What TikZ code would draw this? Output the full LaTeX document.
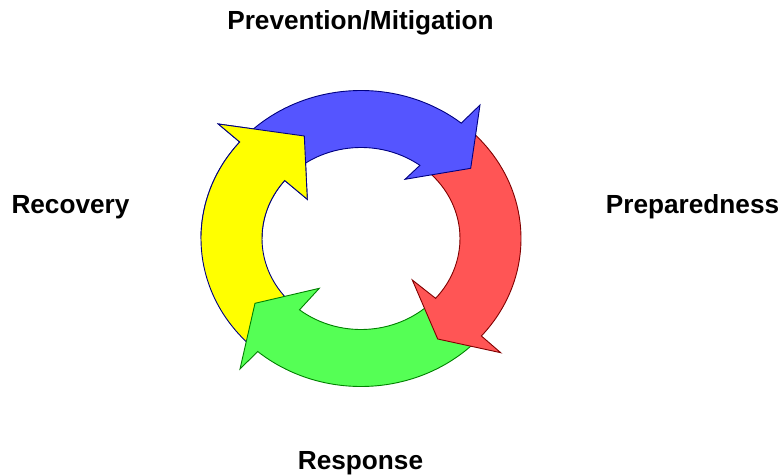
\documentclass[tikz,border=0pt]{standalone}
\usepackage{fontspec}
\setmainfont{Liberation Sans}
\definecolor{bfill}{RGB}{85,85,255}
\definecolor{rfill}{RGB}{255,85,85}
\definecolor{gfill}{RGB}{85,255,85}
\definecolor{yfill}{RGB}{255,255,0}
\definecolor{bline}{RGB}{0,0,128}
\definecolor{rline}{RGB}{128,0,0}
\definecolor{gline}{RGB}{0,128,0}
\tikzset{
  ringarrow/.style={line width=0.9pt, line join=miter},
  lbl/.style={font=\bfseries\fontsize{26.2}{30}\selectfont, anchor=base, inner sep=0pt}
}
\def\yellowarrowpath{(227:160pt and 148pt) arc[start angle=227, end angle=139.3, x radius=160pt, y radius=148pt] -- (-142.7,114.5) -- (-56.7,102.5) -- (-53.7,39.2) -- (140.4:99pt and 91pt) arc[start angle=140.4, end angle=224, x radius=99pt, y radius=91pt] -- cycle}
\begin{document}
\begin{tikzpicture}[x=1pt,y=1pt]
\useasboundingbox (0,0) rectangle (782,-476);
\begin{scope}[shift={(361,-238.5)}]
  % yellow (Recovery), full
  \path[ringarrow, fill=yfill, draw=bline] \yellowarrowpath;
  % green (Response)
  \path[ringarrow, fill=gfill, draw=gline]
    (316:160pt and 148pt) arc[start angle=316, end angle=229.8, x radius=160pt, y radius=148pt]
    -- (-121,-130.5) -- (-106,-64.8) -- (-41.7,-49.8)
    -- (231.6:99pt and 91pt) arc[start angle=231.6, end angle=315, x radius=99pt, y radius=91pt] -- cycle;
  % red (Preparedness)
  \path[ringarrow, fill=rfill, draw=rline]
    (46:160pt and 148pt) arc[start angle=46, end angle=-41.2, x radius=160pt, y radius=148pt]
    -- (139.7,-114.2) -- (76.7,-100.5) -- (51.3,-41.5)
    -- (-41.1:99pt and 91pt) arc[start angle=-41.1, end angle=50, x radius=99pt, y radius=91pt] -- cycle;
  % blue (Prevention/Mitigation)
  \path[ringarrow, fill=bfill, draw=bline]
    (136:160pt and 148pt) arc[start angle=136, end angle=51.2, x radius=160pt, y radius=148pt]
    -- (119,133.5) -- (109.7,70.2) -- (44,59.2)
    -- (53.5:99pt and 91pt) arc[start angle=53.5, end angle=128, x radius=99pt, y radius=91pt] -- cycle;
  % yellow head redrawn on top of the blue tail
  \begin{scope}
    \clip (-200,0) rectangle (0,200);
    \path[ringarrow, fill=yfill, draw=bline] \yellowarrowpath;
  \end{scope}
\end{scope}
\node[lbl] (prev) at (360.5,-29.5) {Prevention/Mitigation};
\node[lbl] (prep) at (692.5,-213) {Preparedness};
\node[lbl] (resp) at (360.5,-469.5) {Response};
\node[lbl] (reco) at (70.5,-213) {Recovery};
\end{tikzpicture}
\end{document}
